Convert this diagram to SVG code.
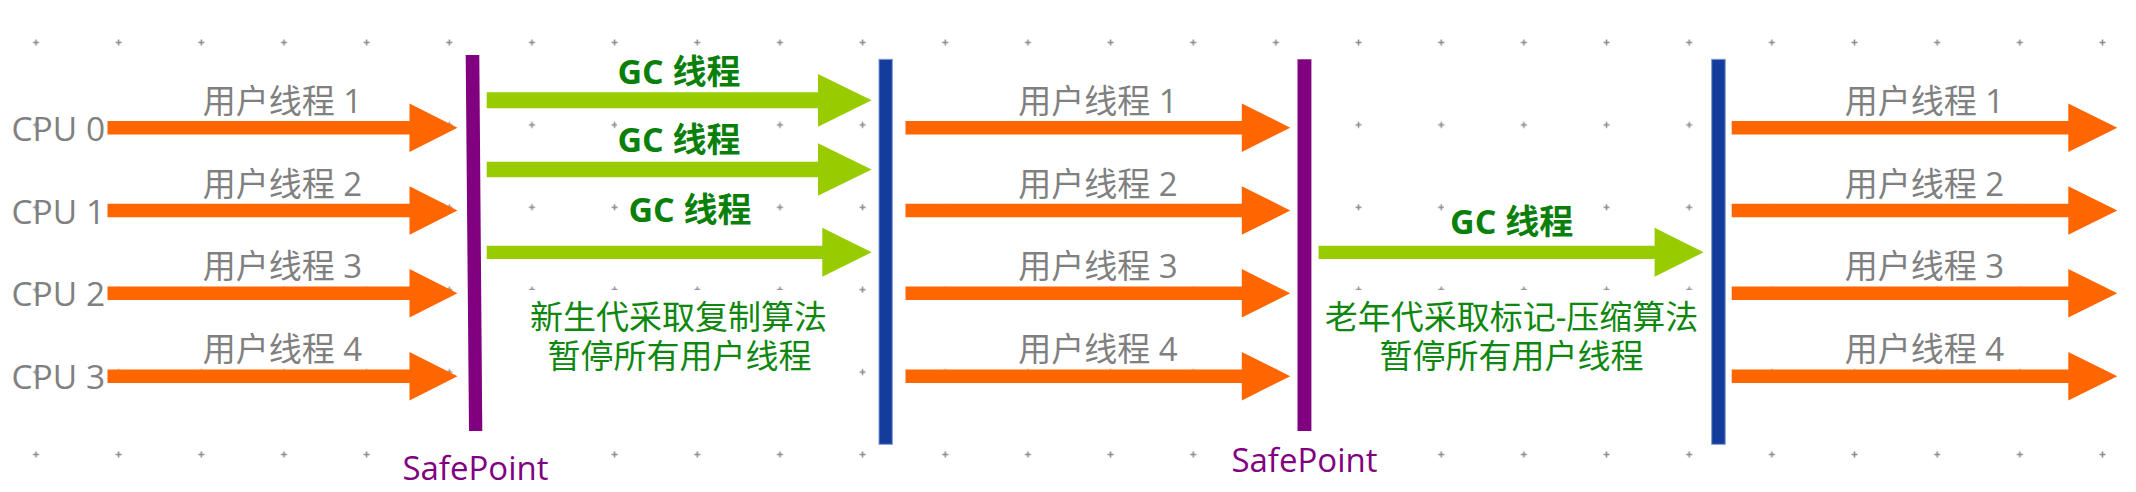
<svg xmlns="http://www.w3.org/2000/svg" xmlns:xlink="http://www.w3.org/1999/xlink" width="2136" height="492" viewBox="0 0 2136 492">
<style>
.lat{font-family:"Open Sans","Noto Sans CJK SC",sans-serif}
.cpu{font-size:33.5px;fill:#808080}
.ut{font-size:33px;fill:#808080;text-anchor:middle}
.gc{font-size:34px;fill:#0a800a;font-weight:bold;text-anchor:middle}
.cap{font-size:33px;fill:#0f870f;text-anchor:middle}
.sp{font-size:33px;fill:#800080;text-anchor:middle}
.bg{fill:#ffffff}
.oa{fill:#ff6600}
.ga{fill:#99cc00}
.pb{fill:#800080}
.bb{fill:#143c9c;stroke:#7f98d4;stroke-width:1}
</style>
<defs>
<pattern id="dots" patternUnits="userSpaceOnUse" x="-5.33" y="1.3" width="82.66" height="82.4">
<path d="M38.33 41.2h6M41.33 38.2v6" stroke="#8c8c8c" stroke-width="1.6" fill="none"/>
</pattern>
<path id="oa1" d="M107.5 -6.8H409.5V-24.3L457.5 0L409.5 24.3V6.8H107.5Z"/>
<path id="oa2" d="M905.5 -6.8H1241.8V-24.3L1290.3 0L1241.8 24.3V6.8H905.5Z"/>
<path id="oa3" d="M1731.7 -6.8H2068.3V-24.3L2117.3 0L2068.3 24.3V6.8H1731.7Z"/>
</defs>
<rect width="2136" height="492" fill="#ffffff"/>
<rect id="grid" width="2136" height="492" fill="url(#dots)"/>

<g id="text-backgrounds" class="bg">
<rect x="617" y="118" width="125" height="38"/>
<rect x="628" y="189" width="126" height="36"/>
<rect x="1444" y="201" width="134" height="36"/>
<rect x="492" y="290" width="358" height="90"/>
<rect x="1316" y="290" width="392" height="90"/>
<rect x="400" y="446" width="152" height="40"/>
<rect x="1228" y="440" width="152" height="40"/>
</g>

<g id="connectors">
<g class="oa">
<use xlink:href="#oa1" y="127.7"/>
<use xlink:href="#oa1" y="210.5"/>
<use xlink:href="#oa1" y="293.3"/>
<use xlink:href="#oa1" y="376.2"/>
<use xlink:href="#oa2" y="127.7"/>
<use xlink:href="#oa2" y="210.5"/>
<use xlink:href="#oa2" y="293.3"/>
<use xlink:href="#oa2" y="376.2"/>
<use xlink:href="#oa3" y="127.7"/>
<use xlink:href="#oa3" y="210.5"/>
<use xlink:href="#oa3" y="293.3"/>
<use xlink:href="#oa3" y="376.2"/>
</g>
<g class="ga">
<path d="M486.7 92.3H818V74L871.7 100.3L818 126.7V108.3H486.7Z"/>
<path d="M486.7 161.7H818V143.3L871.7 169.5L818 195.7V177.3H486.7Z"/>
<path d="M486.7 245.7H822.3V227.7L871.7 252.3L822.3 276.7V259H486.7Z"/>
<path d="M1318.6 245.7H1654.6V227.7L1703.6 252.3L1654.6 276.7V259H1318.6Z"/>
</g>
</g>

<g id="cpu-labels" class="lat cpu">
<text x="11.5" y="140.7">CPU 0</text>
<text x="11.5" y="223.5">CPU 1</text>
<text x="11.5" y="306.3">CPU 2</text>
<text x="11.5" y="389.2">CPU 3</text>
</g>

<g id="user-thread-labels" class="lat ut">
<text x="282.5" y="112.7">用户线程 1</text>
<text x="282.5" y="195.5">用户线程 2</text>
<text x="282.5" y="278.3">用户线程 3</text>
<text x="282.5" y="361.2">用户线程 4</text>
<text x="1097.9" y="112.7">用户线程 1</text>
<text x="1097.9" y="195.5">用户线程 2</text>
<text x="1097.9" y="278.3">用户线程 3</text>
<text x="1097.9" y="361.2">用户线程 4</text>
<text x="1924.5" y="112.7">用户线程 1</text>
<text x="1924.5" y="195.5">用户线程 2</text>
<text x="1924.5" y="278.3">用户线程 3</text>
<text x="1924.5" y="361.2">用户线程 4</text>
</g>

<g id="gc-labels" class="lat gc">
<text x="679" y="83.5">GC 线程</text>
<text x="679" y="152">GC 线程</text>
<text x="690" y="221.5">GC 线程</text>
<text x="1511.6" y="233.5">GC 线程</text>
</g>

<g id="young-gen-caption" class="lat cap">
<text x="678.5" y="329.4">新生代采取复制算法</text>
<text x="679.5" y="367.7">暂停所有用户线程</text>
</g>

<g id="old-gen-caption" class="lat cap">
<text x="1511.5" y="329.4">老年代采取标记-压缩算法</text>
<text x="1511.6" y="367.7">暂停所有用户线程</text>
</g>

<g id="safepoint-1">
<polygon class="pb" points="465.7,55 479.3,55 482.3,431 469,431"/>
<text class="lat sp" x="475.5" y="480">SafePoint</text>
</g>

<g id="barrier-1">
<rect class="bb" x="879" y="59.3" width="13.3" height="385"/>
</g>

<g id="safepoint-2">
<rect class="pb" x="1297.5" y="59.3" width="13.9" height="371.7"/>
<text class="lat sp" x="1304.5" y="471.7">SafePoint</text>
</g>

<g id="barrier-2">
<rect class="bb" x="1711.7" y="59.3" width="13.5" height="385"/>
</g>
</svg>
